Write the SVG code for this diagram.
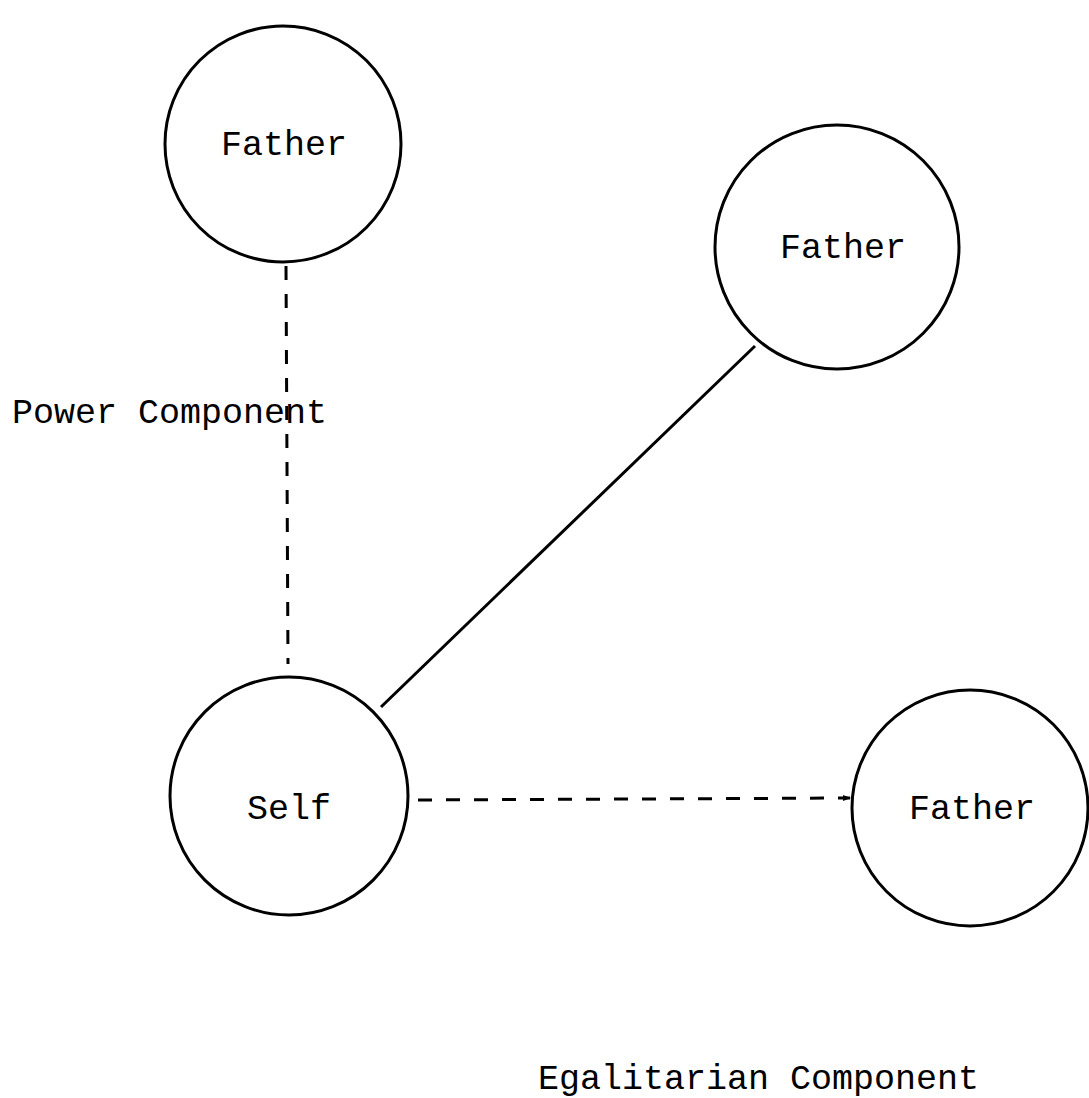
<svg xmlns="http://www.w3.org/2000/svg" width="1089" height="1098" viewBox="0 0 1089 1098">
<style>
.node{fill:none;stroke:#000;stroke-width:3}
.lbl{font-family:"Liberation Mono","Courier New",monospace;font-size:35px;fill:#000}
.dash{stroke:#000;stroke-width:3;fill:none;stroke-dasharray:14 14}
.solid{stroke:#000;stroke-width:3;fill:none}
</style>
<defs>
<marker id="ah" markerWidth="8" markerHeight="8" refX="7" refY="4" orient="auto" markerUnits="userSpaceOnUse">
<path d="M0,1 L8,4 L0,7 Z" fill="#000"/>
</marker>
</defs>
<rect width="1089" height="1098" fill="#fff"/>
<g id="connectors">
<line class="dash" x1="286" y1="266" x2="288" y2="664"/>
<line class="solid" x1="381" y1="707" x2="755" y2="346"/>
<line class="dash" x1="418" y1="800" x2="850" y2="798" marker-end="url(#ah)"/>
</g>
<g id="father-top">
<circle class="node" cx="283" cy="144" r="118"/>
<text class="lbl" x="284" y="155" text-anchor="middle">Father</text>
</g>
<g id="father-mid">
<circle class="node" cx="837" cy="247" r="122"/>
<text class="lbl" x="843" y="258" text-anchor="middle">Father</text>
</g>
<g id="self">
<circle class="node" cx="289" cy="796" r="119"/>
<text class="lbl" x="289" y="819" text-anchor="middle">Self</text>
</g>
<g id="father-right">
<circle class="node" cx="970" cy="808" r="118"/>
<text class="lbl" x="972" y="819" text-anchor="middle">Father</text>
</g>
<text class="lbl" x="12" y="423">Power Component</text>
<text class="lbl" x="538" y="1089">Egalitarian Component</text>
</svg>
